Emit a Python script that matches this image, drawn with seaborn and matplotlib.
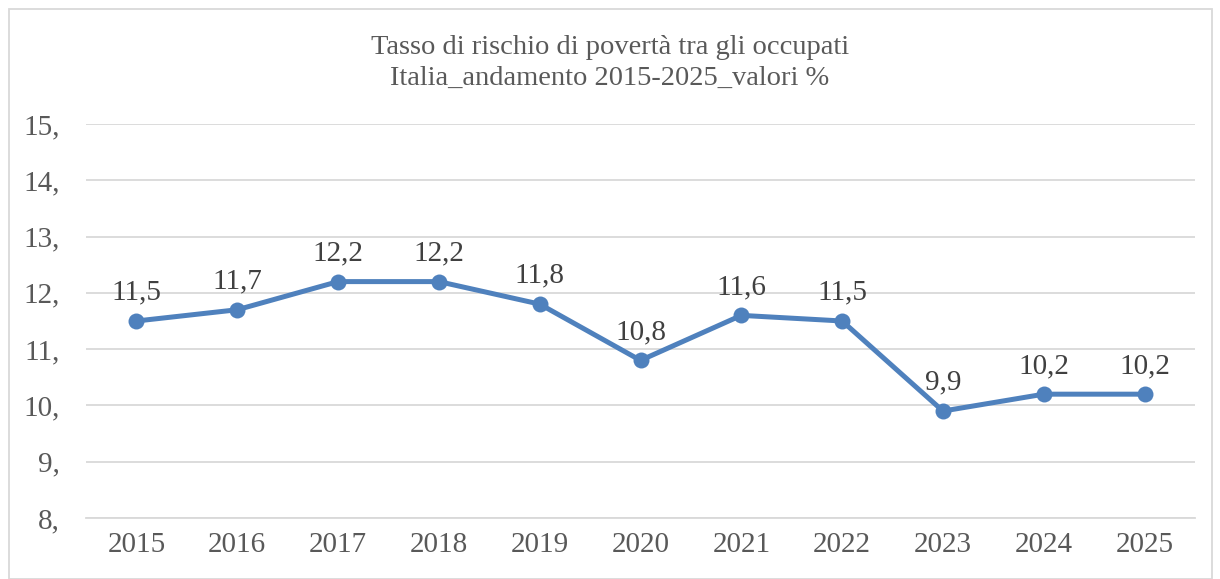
import matplotlib
matplotlib.use("Agg")
import matplotlib.pyplot as plt
import seaborn as sns
import pandas as pd
from matplotlib.patches import Rectangle

years = ["2015", "2016", "2017", "2018", "2019", "2020", "2021", "2022", "2023", "2024", "2025"]
values = [11.5, 11.7, 12.2, 12.2, 11.8, 10.8, 11.6, 11.5, 9.9, 10.2, 10.2]
yticks = [8, 9, 10, 11, 12, 13, 14, 15]
ytick_labels = ["8,", "9,", "10,", "11,", "12,", "13,", "14,", "15,"]
title = "Tasso di rischio di povertà tra gli occupati\nItalia_andamento 2015-2025_valori %"

sns.set_theme(style="white")
plt.rcParams["font.family"] = ["Liberation Serif", "DejaVu Serif"]

TXT = "#595959"
BLUE = "#4F81BD"

df = pd.DataFrame({"pos": range(len(years)), "val": values})

fig = plt.figure(figsize=(12.2, 5.79), dpi=100)
ax = fig.add_axes([86/1220, 1 - 518/579, (1195-86)/1220, (518-124)/579])

sns.lineplot(data=df, x="pos", y="val", ax=ax, color=BLUE, linewidth=3.6,
             marker="o", markersize=11.5, markeredgewidth=0, markeredgecolor=BLUE)

ax.set_xlim(-0.5, len(years) - 0.5)
ax.set_ylim(8, 15)
ax.set_yticks(yticks)
ax.set_yticklabels(ytick_labels)
ax.set_xticks(range(len(years)))
ax.set_xticklabels(years)
ax.tick_params(axis="both", colors=TXT, labelsize=21, length=0)
ax.tick_params(axis="y", pad=19)
ax.tick_params(axis="x", pad=10)
ax.set_xlabel("")
ax.set_ylabel("")
ax.grid(axis="y", color="#D9D9D9", linewidth=1.3)
ax.grid(axis="x", visible=False)
for s in ["top", "right", "left"]:
    ax.spines[s].set_visible(False)
ax.spines["bottom"].set_color("#D9D9D9")
ax.spines["bottom"].set_linewidth(1.3)

for i, v in enumerate(values):
    ax.annotate(f"{v:.1f}".replace(".", ","), (i, v), xytext=(0, 11), textcoords="offset points",
                ha="center", va="bottom", fontsize=21, color="#404040")

fig.text(0.5, 1 - 63/579, title, ha="center", va="center", fontsize=20.5, color=TXT, linespacing=1.3)

fig.patches.append(Rectangle((9/1220, 0.0), 1203/1220, 1 - 9/579, transform=fig.transFigure,
                             fill=False, edgecolor="#D9D9D9", linewidth=1.3))

fig.savefig("out.png", dpi=100)
